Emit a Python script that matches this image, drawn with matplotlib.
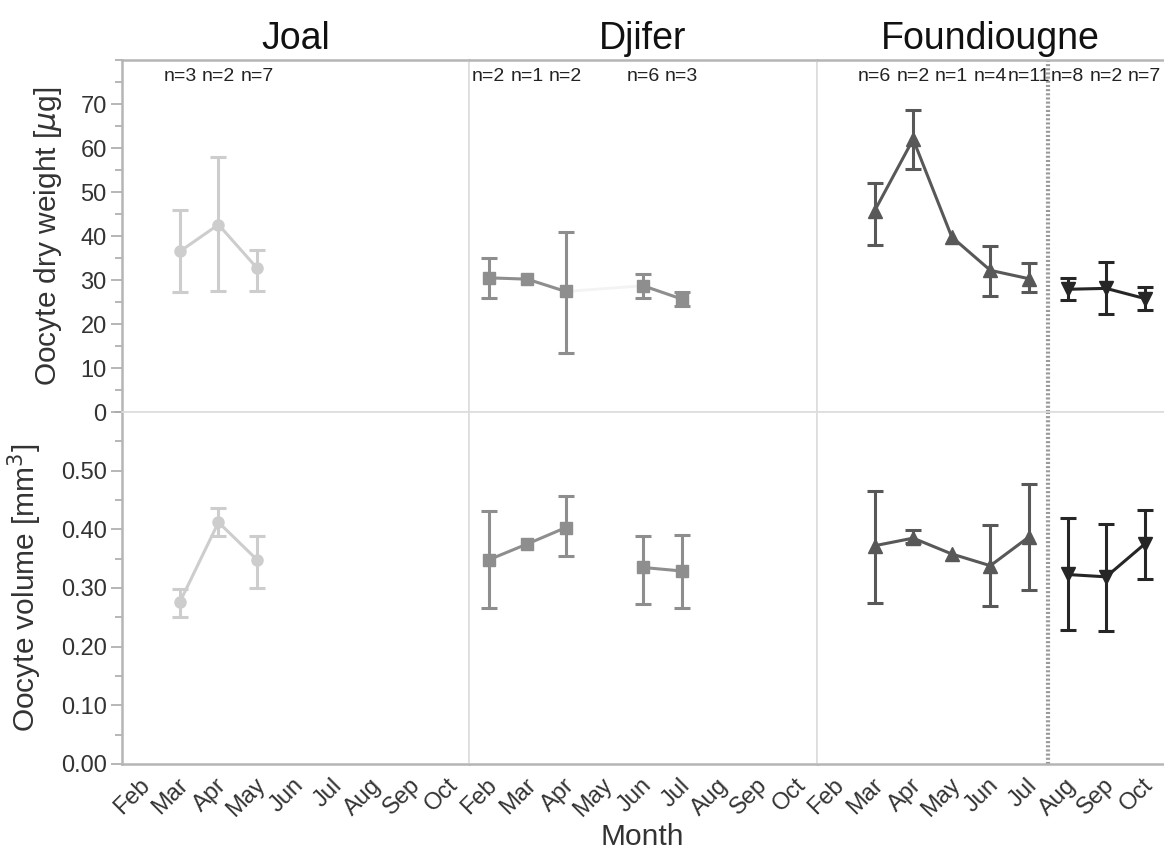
import numpy as np
import matplotlib.pyplot as plt
import matplotlib.transforms as mtransforms
from matplotlib.ticker import MultipleLocator

plt.rcParams.update({
    "font.family": ["Liberation Sans", "DejaVu Sans"],
    "text.color": "#333333",
    "axes.labelcolor": "#333333",
    "xtick.color": "#333333",
    "ytick.color": "#333333",
})

months = ["Feb", "Mar", "Apr", "May", "Jun", "Jul", "Aug", "Sep", "Oct"]
sites = ["Joal", "Djifer", "Foundiougne"]

# -------- data (mean, lower, upper); NaN = no error bar --------
joal_months = ["Mar", "Apr", "May"]
joal_n = ["n=3", "n=2", "n=7"]
joal_wt = [36.5, 42.6, 32.7]
joal_wt_lo = [27.3, 27.6, 27.4]
joal_wt_hi = [46.0, 57.9, 36.8]
joal_vol = [0.276, 0.412, 0.348]
joal_vol_lo = [0.251, 0.388, 0.300]
joal_vol_hi = [0.298, 0.436, 0.389]

djifer_months = ["Feb", "Mar", "Apr", "Jun", "Jul"]
djifer_n = ["n=2", "n=1", "n=2", "n=6", "n=3"]
djifer_wt = [30.5, 30.2, 27.4, 28.7, 25.7]
djifer_wt_lo = [25.9, np.nan, 13.3, 25.9, 24.1]
djifer_wt_hi = [34.9, np.nan, 40.9, 31.4, 27.2]
djifer_vol = [0.348, 0.375, 0.403, 0.335, 0.329]
djifer_vol_lo = [0.266, np.nan, 0.354, 0.273, 0.266]
djifer_vol_hi = [0.431, np.nan, 0.456, 0.388, 0.391]

foun1_months = ["Mar", "Apr", "May", "Jun", "Jul"]
foun1_n = ["n=6", "n=2", "n=1", "n=4", "n=11"]
foun1_wt = [45.7, 62.0, 39.8, 32.2, 30.3]
foun1_wt_lo = [37.9, 55.2, np.nan, 26.3, 27.2]
foun1_wt_hi = [52.0, 68.7, np.nan, 37.7, 33.9]
foun1_vol = [0.372, 0.385, 0.358, 0.338, 0.387]
foun1_vol_lo = [0.275, 0.377, np.nan, 0.270, 0.296]
foun1_vol_hi = [0.466, 0.399, np.nan, 0.407, 0.477]

foun2_months = ["Aug", "Sep", "Oct"]
foun2_n = ["n=8", "n=2", "n=7"]
foun2_wt = [27.9, 28.1, 25.8]
foun2_wt_lo = [25.5, 22.3, 23.2]
foun2_wt_hi = [30.5, 34.1, 28.4]
foun2_vol = [0.323, 0.319, 0.375]
foun2_vol_lo = [0.229, 0.227, 0.315]
foun2_vol_hi = [0.419, 0.409, 0.433]

split_after = "Jul"   # dotted divider in Foundiougne

series = [
    # column, months, n, wt, wt_lo, wt_hi, vol, vol_lo, vol_hi, colour, marker, size
    (0, joal_months, joal_n, joal_wt, joal_wt_lo, joal_wt_hi,
     joal_vol, joal_vol_lo, joal_vol_hi, "#cdcdcd", "o", 8),
    (1, djifer_months, djifer_n, djifer_wt, djifer_wt_lo, djifer_wt_hi,
     djifer_vol, djifer_vol_lo, djifer_vol_hi, "#8e8e8e", "s", 8.5),
    (2, foun1_months, foun1_n, foun1_wt, foun1_wt_lo, foun1_wt_hi,
     foun1_vol, foun1_vol_lo, foun1_vol_hi, "#585858", "^", 10),
    (2, foun2_months, foun2_n, foun2_wt, foun2_wt_lo, foun2_wt_hi,
     foun2_vol, foun2_vol_lo, foun2_vol_hi, "#262626", "v", 10),
]

fig, axes = plt.subplots(2, 3, figsize=(11.64, 8.58), dpi=100, sharex=True)
fig.subplots_adjust(left=0.1048, right=1.0, top=0.930, bottom=0.1096,
                    wspace=0, hspace=0)

month_pos = {m: i for i, m in enumerate(months)}


def draw_series(ax, mths, vals, lo, hi, colour, marker, ms, faint_gap=False):
    x = np.array([month_pos[m] for m in mths], dtype=float)
    y = np.array(vals, dtype=float)
    lo = np.array(lo, dtype=float)
    hi = np.array(hi, dtype=float)
    # break the line where months are missing
    xs, ys = [x[0]], [y[0]]
    for i in range(1, len(x)):
        if x[i] - x[i - 1] > 1:
            xs.append(np.nan)
            ys.append(np.nan)
        xs.append(x[i])
        ys.append(y[i])
    if faint_gap:
        ax.plot(x, y, color="#f3f3f3", lw=2, zorder=2)
    ax.plot(xs, ys, color=colour, lw=2.2, zorder=3)
    ax.errorbar(x, y, yerr=[y - lo, hi - y], fmt="none", ecolor=colour,
                elinewidth=2.2, capsize=5.8, capthick=2.2, zorder=3)
    ax.plot(x, y, linestyle="none", marker=marker, ms=ms, color=colour,
            zorder=4)


for col, mths, ns, wt, wlo, whi, vol, vlo, vhi, colour, marker, ms in series:
    draw_series(axes[0, col], mths, wt, wlo, whi, colour, marker, ms,
                faint_gap=(col == 1))
    draw_series(axes[1, col], mths, vol, vlo, vhi, colour, marker, ms)
    for m, n in zip(mths, ns):
        axes[0, col].text(month_pos[m], 76.2, n, ha="center", va="center",
                          fontsize=14, color="#222222")

for r in range(2):
    ax = axes[r, 2]
    ax.axvline(month_pos[split_after] + 0.5, color="#9a9a9a", lw=3,
               linestyle=(0, (0.5, 0.5)), zorder=1)

offset = mtransforms.ScaledTranslation(5 / 100, 0, fig.dpi_scale_trans)

for r in range(2):
    for c in range(3):
        ax = axes[r, c]
        ax.set_xlim(-0.5, len(months) - 0.5)
        if r == 0:
            ax.set_ylim(0, 80)
        else:
            ax.set_ylim(0, 0.6)
        for s in ax.spines.values():
            s.set_color("#dddddd")
            s.set_linewidth(1.2)
        ax.spines["right"].set_visible(c != 2)
        if r == 0:
            ax.spines["top"].set_color("#b5b5b5")
            ax.spines["top"].set_linewidth(1.8)
        if r == 1:
            ax.spines["bottom"].set_color("#b5b5b5")
            ax.spines["bottom"].set_linewidth(1.8)
        if c == 0:
            ax.spines["left"].set_color("#b5b5b5")
            ax.spines["left"].set_linewidth(1.8)
            ax.tick_params(axis="y", which="major", length=8, width=1.2,
                           color="#aaaaaa", labelsize=17, pad=3)
            ax.tick_params(axis="y", which="minor", length=5, width=1.2,
                           color="#aaaaaa")
        else:
            ax.tick_params(axis="y", which="both", left=False,
                           labelleft=False)
        ax.tick_params(axis="x", length=0, labelsize=17, pad=13)
        ax.set_xticks(range(len(months)))
        ax.set_xticklabels(months, rotation=45, ha="right", va="center",
                           rotation_mode="anchor")
        for lab in ax.get_xticklabels():
            lab.set_transform(lab.get_transform() + offset)

axes[0, 0].set_yticks(np.arange(0, 71, 10))
axes[0, 0].yaxis.set_minor_locator(MultipleLocator(5))
axes[1, 0].set_yticks(np.arange(0, 0.51, 0.1))
axes[1, 0].set_yticklabels([f"{v:.2f}" for v in np.arange(0, 0.51, 0.1)])
axes[1, 0].yaxis.set_minor_locator(MultipleLocator(0.05))

axes[0, 0].set_ylabel(r"Oocyte dry weight [$\mu$g]", fontsize=21.5,
                      labelpad=12)
axes[1, 0].set_ylabel(r"Oocyte volume [mm$^3$]", fontsize=21.5, labelpad=12)

for c, name in enumerate(sites):
    axes[0, c].set_title(name, fontsize=27, pad=8, color="#111111")

fig.text(0.552, 0.025, "Month", ha="center", va="center", fontsize=21.5)

fig.savefig("out.png", dpi=100)
